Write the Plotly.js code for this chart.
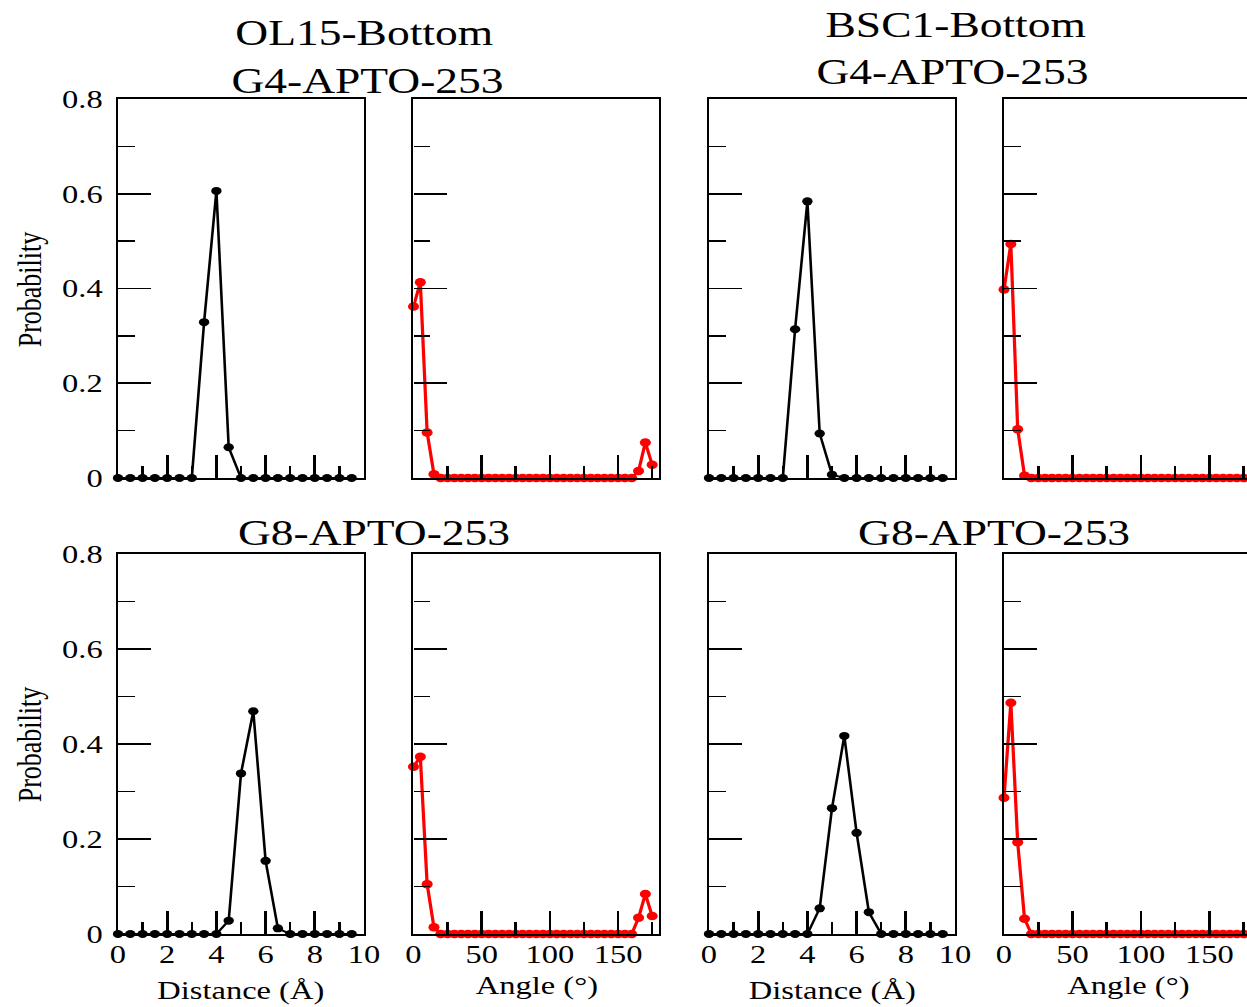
<!DOCTYPE html>
<html>
<head>
<meta charset="utf-8">
<script src="https://cdn.plot.ly/plotly-3.0.1.min.js"></script>
<style>
  html, body { margin: 0; padding: 0; overflow: hidden; background: #fff; }
  #plot { width: 963px; height: 1007px; transform: scaleX(1.3); transform-origin: 0 0; }
</style>
</head>
<body>
<div id="plot"></div>
<script>
// ---------------- data ----------------
const distance = [0, 0.5, 1, 1.5, 2, 2.5, 3, 3.5, 4, 4.5, 5, 5.5, 6, 6.5, 7, 7.5, 8, 8.5, 9, 9.5];
const angle = [0, 5, 10, 15, 20, 25, 30, 35, 40, 45, 50, 55, 60, 65, 70, 75, 80, 85,
               90, 95, 100, 105, 110, 115, 120, 125, 130, 135, 140, 145, 150, 155, 160, 165, 170, 175];

const distOL15G4 = [0, 0, 0, 0, 0, 0, 0, 0.329, 0.606, 0.065, 0, 0, 0, 0, 0, 0, 0, 0, 0, 0];
const distBSC1G4 = [0, 0, 0, 0, 0, 0, 0, 0.314, 0.584, 0.094, 0.007, 0, 0, 0, 0, 0, 0, 0, 0, 0];
const distOL15G8 = [0, 0, 0, 0, 0, 0, 0, 0, 0, 0.028, 0.338, 0.469, 0.154, 0.012, 0, 0, 0, 0, 0, 0];
const distBSC1G8 = [0, 0, 0, 0, 0, 0, 0, 0, 0, 0.054, 0.265, 0.417, 0.213, 0.046, 0, 0, 0, 0, 0, 0];

const angOL15G4 = [0.362, 0.413, 0.096, 0.008, 0, 0, 0, 0, 0, 0, 0, 0, 0, 0, 0, 0, 0, 0,
                   0, 0, 0, 0, 0, 0, 0, 0, 0, 0, 0, 0, 0, 0, 0, 0.015, 0.075, 0.028];
const angBSC1G4 = [0.398, 0.494, 0.103, 0.005, 0, 0, 0, 0, 0, 0, 0, 0, 0, 0, 0, 0, 0, 0,
                   0, 0, 0, 0, 0, 0, 0, 0, 0, 0, 0, 0, 0, 0, 0, 0, 0, 0];
const angOL15G8 = [0.352, 0.373, 0.105, 0.014, 0, 0, 0, 0, 0, 0, 0, 0, 0, 0, 0, 0, 0, 0,
                   0, 0, 0, 0, 0, 0, 0, 0, 0, 0, 0, 0, 0, 0, 0, 0.034, 0.084, 0.038];
const angBSC1G8 = [0.287, 0.487, 0.193, 0.032, 0, 0, 0, 0, 0, 0, 0, 0, 0, 0, 0, 0, 0, 0,
                   0, 0, 0, 0, 0, 0, 0, 0, 0, 0, 0, 0, 0, 0, 0, 0, 0, 0];

const titleTopLeft = ["OL15-Bottom", "G4-APTO-253"];
const titleTopRight = ["BSC1-Bottom", "G4-APTO-253"];
const titleBottomLeft = "G8-APTO-253";
const titleBottomRight = "G8-APTO-253";
const yLabel = "Probability";
const distLabel = "Distance (Å)";
const angLabel = "Angle (°)";

// ---------------- layout helpers ----------------
const S = 1.3, W = 963, H = 1007;
const px = x => x / (S * W);
const py = y => 1 - y / H;
const cols = [[118, 364], [413.5, 659], [709, 955], [1004, 1250.5]];
const rows = [[99, 478], [554, 934]];
const FONT = "Liberation Serif, Times New Roman, serif";

const panels = [
  {row: 0, col: 0, kind: "dist", y: distOL15G4},
  {row: 0, col: 1, kind: "ang",  y: angOL15G4},
  {row: 0, col: 2, kind: "dist", y: distBSC1G4},
  {row: 0, col: 3, kind: "ang",  y: angBSC1G4},
  {row: 1, col: 0, kind: "dist", y: distOL15G8},
  {row: 1, col: 1, kind: "ang",  y: angOL15G8},
  {row: 1, col: 2, kind: "dist", y: distBSC1G8},
  {row: 1, col: 3, kind: "ang",  y: angBSC1G8}
];

const traces = [];
const layout = {
  width: W, height: H,
  margin: {l: 0, r: 0, t: 0, b: 0},
  paper_bgcolor: "#fff", plot_bgcolor: "#fff",
  showlegend: false,
  font: {family: FONT, color: "#000"},
  annotations: []
};

panels.forEach((p, i) => {
  const n = i + 1;
  const xk = n === 1 ? "xaxis" : "xaxis" + n;
  const yk = n === 1 ? "yaxis" : "yaxis" + n;
  const xr = n === 1 ? "x" : "x" + n;
  const yr = n === 1 ? "y" : "y" + n;
  const isDist = p.kind === "dist";
  const color = isDist ? "#000000" : "#ff0000";
  traces.push({
    type: "scatter", mode: "lines+markers",
    x: isDist ? distance : angle, y: p.y,
    xaxis: xr, yaxis: yr,
    line: {color: color, width: isDist ? 2 : 2.5},
    marker: {color: color, size: isDist ? 8 : 8.5, symbol: "circle"},
    cliponaxis: false
  });
  const c = cols[p.col], r = rows[p.row];
  layout[xk] = {
    domain: [px(c[0]), px(c[1])],
    anchor: yr,
    range: isDist ? [0, 10] : [0, 180],
    dtick: isDist ? 2 : 50, tick0: 0,
    ticks: "inside", ticklen: 23, tickwidth: 2, tickcolor: "#000",
    minor: {dtick: isDist ? 1 : 25, tick0: 0, ticks: "inside", ticklen: 12, tickwidth: 2, tickcolor: "#000"},
    showline: true, linewidth: 2, linecolor: "#000", mirror: true,
    showgrid: false, zeroline: false,
    showticklabels: p.row === 1,
    ticklabelstandoff: -3,
    tickfont: {family: FONT, size: 25, color: "#000"},
    fixedrange: true
  };
  layout[yk] = {
    domain: [py(r[1]), py(r[0])],
    anchor: xr,
    range: [0, 0.8],
    dtick: 0.2, tick0: 0,
    ticks: "inside", ticklen: 25.4, tickwidth: 1.6, tickcolor: "#000",
    minor: {dtick: 0.1, tick0: 0, ticks: "inside", ticklen: 13, tickwidth: 1.6, tickcolor: "#000"},
    showline: true, linewidth: 1.8, linecolor: "#000", mirror: true,
    showgrid: false, zeroline: false,
    showticklabels: p.col === 0,
    ticklabelstandoff: 5,
    tickfont: {family: FONT, size: 25, color: "#000"},
    fixedrange: true
  };
});

function ann(text, xf, yf, size, angleDeg) {
  layout.annotations.push({
    text: text, xref: "paper", yref: "paper",
    x: px(xf), y: py(yf), xanchor: "center", yanchor: "middle",
    showarrow: false, textangle: angleDeg || 0,
    font: {family: FONT, size: size, color: "#000"}
  });
}
ann(titleTopLeft[0], 364, 33, 35);
ann(titleTopLeft[1], 367, 81, 35);
ann(titleTopRight[0], 956, 26, 35);
ann(titleTopRight[1], 952, 73, 35);
ann(titleBottomLeft, 374, 533, 35);
ann(titleBottomRight, 994, 533, 35);
ann(yLabel, 29, 289, 26, -90);
ann(yLabel, 29, 744, 26, -90);
ann(distLabel, 241, 991, 25);
ann(distLabel, 832, 991, 25);
ann(angLabel, 537, 986, 25);
ann(angLabel, 1128, 986, 25);

Plotly.newPlot("plot", traces, layout, {displayModeBar: false, staticPlot: true});
</script>
</body>
</html>
